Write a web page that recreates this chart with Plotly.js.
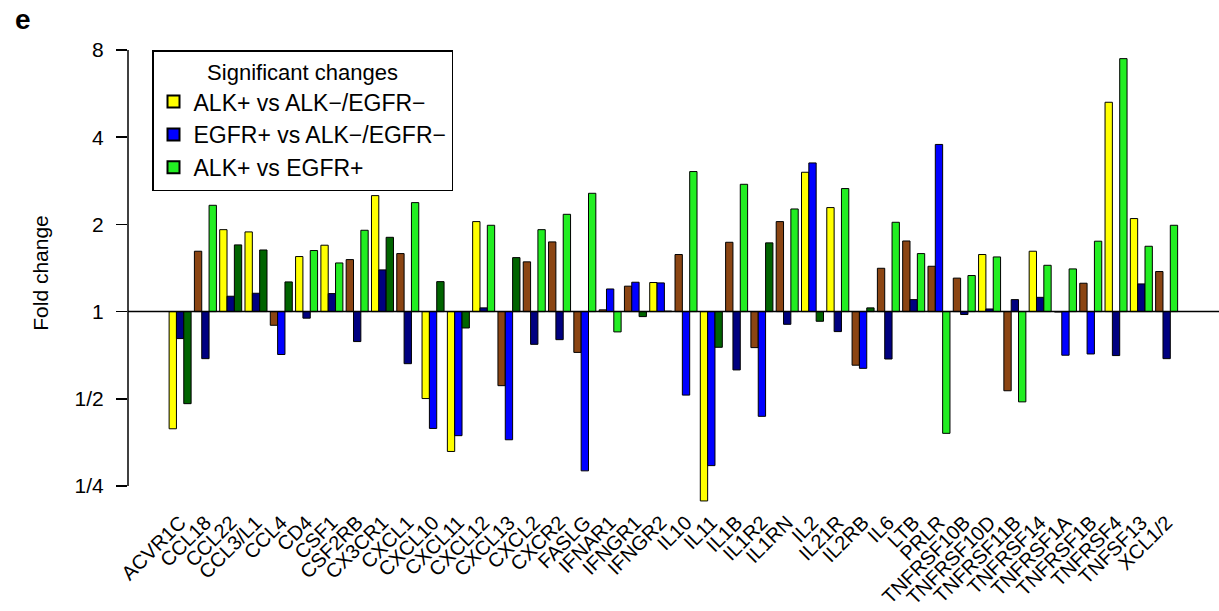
<!DOCTYPE html>
<html>
<head>
<meta charset="utf-8">
<script src="https://cdn.plot.ly/plotly-3.0.1.min.js"></script>
<style>html,body{margin:0;padding:0;background:#fff;}#chart{width:1219px;height:611px;}</style>
</head>
<body>
<div id="chart"></div>
<script>
const genes = ["ACVR1C","CCL18","CCL22","CCL3/L1","CCL4","CD4","CSF1","CSF2RB","CX3CR1","CXCL1",
  "CXCL10","CXCL11","CXCL12","CXCL13","CXCL2","CXCR2","FASLG","IFNAR1","IFNGR1","IFNGR2",
  "IL10","IL11","IL1B","IL1R2","IL1RN","IL2","IL21R","IL2RB","IL6","LTB",
  "PRLR","TNFRSF10B","TNFRSF10D","TNFRSF11B","TNFRSF14","TNFRSF1A","TNFRSF1B","TNFRSF4","TNFSF13","XCL1/2"];

// Fold changes
const alkVsNeg = [0.394,1.616,1.918,1.884,0.897,1.549,1.695,1.512,2.514,1.586,
  0.501,0.329,2.045,0.555,1.485,1.740,0.723,1.014,1.224,1.260,
  1.574,0.222,1.735,0.751,2.045,3.027,2.286,0.653,1.411,1.753,
  1.434,1.305,1.574,0.533,1.616,0.997,1.253,5.281,2.095,1.375];
const egfrVsNeg = [0.807,0.688,1.130,1.157,0.711,0.949,1.154,0.788,1.393,0.661,
  0.395,0.373,1.030,0.361,0.771,0.800,0.282,1.197,1.263,1.256,
  0.515,0.294,0.629,0.435,0.904,3.260,0.853,0.637,0.686,1.100,
  3.776,0.977,1.021,1.100,1.120,0.707,0.714,0.705,1.246,0.688];
const alkVsEgfr = [0.481,2.328,1.699,1.632,1.266,1.625,1.472,1.909,1.805,2.378,
  1.269,0.878,1.986,1.536,1.918,2.167,2.561,0.851,0.961,1.004,
  3.044,0.753,2.751,1.727,2.261,0.926,2.659,1.030,2.034,1.586,
  0.380,1.332,1.544,0.488,1.445,1.404,1.750,7.469,1.681,1.986];

// Significance flags (1 = significant)
const sigAlkVsNeg = [1,0,1,1,0,1,1,0,1,0, 1,1,1,0,0,0,0,0,0,1, 0,1,0,0,0,1,1,0,0,0, 0,0,1,0,1,0,0,1,1,0];
const sigEgfrVsNeg = [0,0,0,0,1,0,0,0,0,0, 1,1,0,1,0,0,1,1,1,1, 1,1,0,1,0,1,0,1,0,0, 1,0,0,0,0,1,1,0,0,0];
const sigAlkVsEgfr = [0,1,0,0,0,1,1,1,0,1, 0,0,1,0,1,1,1,1,0,0, 1,0,1,0,1,0,1,0,1,1, 1,1,1,1,1,1,1,1,1,1];

const seriesNames = ["ALK+ vs ALK\u2212/EGFR\u2212","EGFR+ vs ALK\u2212/EGFR\u2212","ALK+ vs EGFR+"];
const sigColors = ["#FFFF00","#0000FF","#22EE22"];
const nsColors = ["#8B4513","#000080","#006400"];

const FONT = "Liberation Sans, Arial, Helvetica, sans-serif";
const vals = [alkVsNeg, egfrVsNeg, alkVsEgfr];
const sigs = [sigAlkVsNeg, sigEgfrVsNeg, sigAlkVsEgfr];

const traces = [];
vals.forEach((v, k) => {
  traces.push({
    type: "bar", x: genes, y: v.map(d => d - 1), base: 1,
    customdata: v,
    marker: {color: sigs[k].map(s => s ? sigColors[k] : nsColors[k]), line: {color: "#000", width: 1}},
    showlegend: false, hovertemplate: "%{x}: %{customdata}<extra></extra>"
  });
});
// legend entries
seriesNames.forEach((n, k) => {
  traces.push({
    type: "scatter", mode: "markers", x: [null], y: [null], name: n,
    marker: {symbol: "square", size: 14, color: sigColors[k], line: {color: "#000", width: 1.2}},
    showlegend: true
  });
});

const layout = {
  width: 1219, height: 611,
  margin: {l: 128, r: 0, t: 40, b: 105},
  paper_bgcolor: "#fff", plot_bgcolor: "#fff",
  font: {family: FONT, color: "#000", size: 20},
  barmode: "group", bargap: 0.13, bargroupgap: 0,
  xaxis: {type: "category", range: [-2.06, 41.07], tickangle: -45, ticks: "",
    showgrid: false, zeroline: false, showline: false, automargin: false,
    tickfont: {family: FONT, size: 20, color: "#000"}},
  yaxis: {type: "log", range: [-0.6711, 0.9376], autorange: false,
    tickvals: [0.25, 0.5, 1, 2, 4, 8], ticktext: ["1/4","1/2","1","2","4","8"],
    ticks: "outside", ticklen: 11, tickwidth: 1.5, tickcolor: "#000",
    ticklabelstandoff: 8,
    showgrid: false, zeroline: false, showline: false, automargin: false,
    tickfont: {family: FONT, size: 21, color: "#000"},
    title: {text: "Fold change", font: {family: FONT, size: 21, color: "#000"}, standoff: 20}},
  legend: {x: 0.022, y: 0.9785, xanchor: "left", yanchor: "top",
    bgcolor: "#fff", bordercolor: "#000", borderwidth: 1.5,
    font: {family: FONT, size: 23, color: "#000"},
    title: {text: "Significant changes", side: "top center", font: {family: FONT, size: 22, color: "#000"}},
    itemsizing: "constant", tracegroupgap: 0},
  shapes: [
    {type: "line", xref: "paper", yref: "y", x0: 0, x1: 0, y0: 0.25, y1: 8, line: {color: "#000", width: 1.5}},
    {type: "line", xref: "paper", yref: "y", x0: 0, x1: 1, y0: 1, y1: 1, line: {color: "#000", width: 1.5}}
  ],
  annotations: [
    {text: "<b>e</b>", xref: "paper", yref: "paper", x: -0.105, y: 1.043, xanchor: "left", yanchor: "middle",
     showarrow: false, font: {family: FONT, size: 28, color: "#000"}}
  ]
};

Plotly.newPlot("chart", traces, layout, {displayModeBar: false, staticPlot: true});
</script>
</body>
</html>
